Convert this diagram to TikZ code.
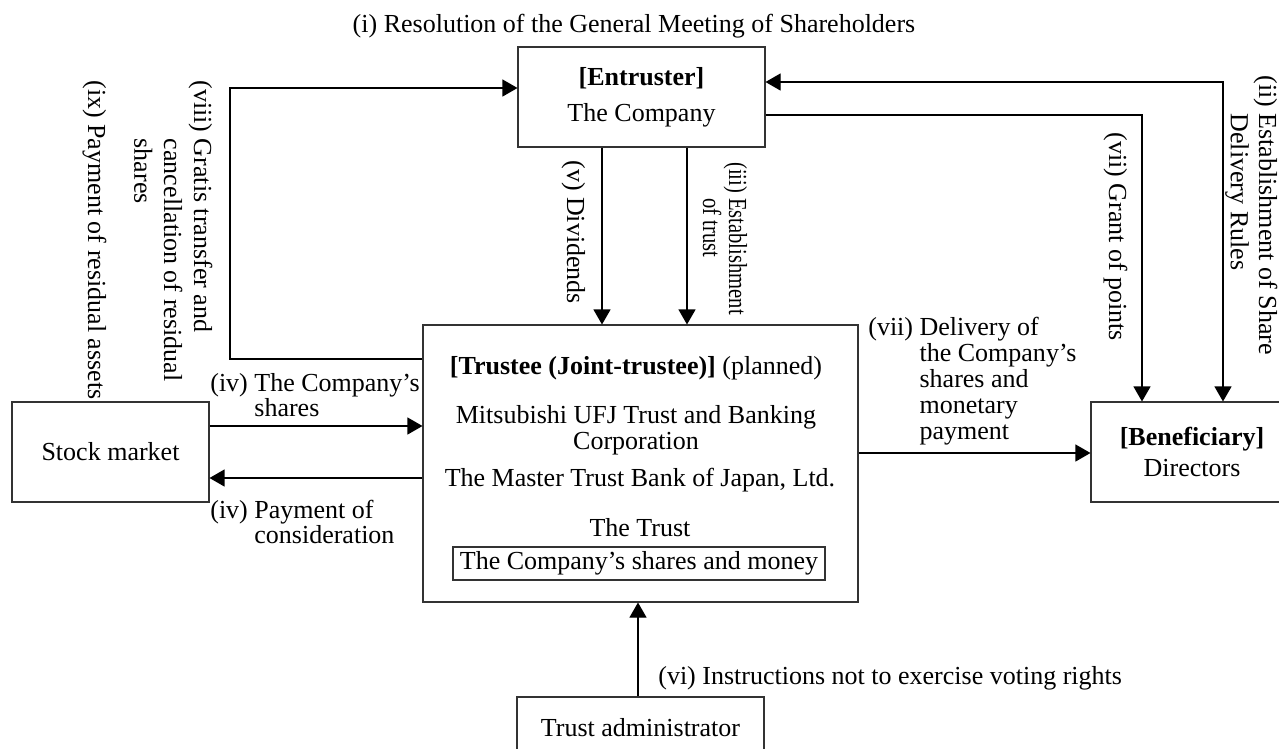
\documentclass[tikz,border=0pt]{standalone}
\usepackage{fontspec}
\setmainfont{Liberation Serif}
\usetikzlibrary{arrows.meta,calc,positioning}

\def\px{0.02cm}
% label with hanging indent: \hang{(x)}{first line\\ & next line}
\newcommand{\hang}[2]{\begin{tabular}[t]{@{}l@{\ }l@{}}#1 & #2\end{tabular}}

\tikzset{
  every node/.style={font=\fontsize{14.8}{14.8}\selectfont},
  box/.style={draw=black!80, line width=0.6pt, inner sep=0pt, align=center},
  link/.style={line width=0.6pt, -{Triangle[length=0.3cm,width=0.34cm]}},
  lbl/.style={inner sep=0pt, anchor=base west, align=left},
  vlbl/.style={lbl, rotate=-90},
}

\begin{document}
\begin{tikzpicture}[x=\px, y=-\px]
  \useasboundingbox (0,0) rectangle (1279,748);
  \clip (0,0) rectangle (1279,748);

  % Boxes
  \node[box, minimum width=247*\px, minimum height=100*\px] (entruster) at (641.5,97)
    {\textbf{[Entruster]}\\[5.7pt]The Company};
  \node[box, minimum width=435*\px, minimum height=277*\px] (trustee) at (640.5,463.5) {};
  \node[box, minimum width=197*\px, minimum height=100*\px] (stock) at (110.5,452) {Stock market};
  \node[box, minimum width=202*\px, minimum height=100*\px] (benef) at (1192,452)
    {\textbf{[Beneficiary]}\\[2.8pt]Directors};
  \node[box, minimum width=247*\px, minimum height=62*\px] (admin) at (640.5,728) {Trust administrator};

  % Inside the trustee box
  \node (trhead) at (636,368) {\textbf{[Trustee (Joint-trustee)]} (planned)};
  \node[align=center] (trmufg) at (636,430.5) {Mitsubishi UFJ Trust and Banking\\Corporation};
  \node (trmtbj) at (640,480) {The Master Trust Bank of Japan, Ltd.};
  \node (trtrust) at (640,528) {The Trust};
  \node[box, minimum width=372*\px, minimum height=33*\px] (assets) at (639,563.5)
    {The Company’s shares and money};

  % Connectors
  \coordinate (bendL) at (230,88);
  \draw[link] (trustee.west |- 0,359) -| (bendL) -- (entruster.west |- bendL);
  \draw[link, {Triangle[length=0.3cm,width=0.34cm]}-{Triangle[length=0.3cm,width=0.34cm]}]
    (entruster.east |- 0,82) -| (benef.north -| 1223,0);
  \draw[link] (entruster.east |- 0,115) -| (benef.north -| 1142,0);
  \draw[link] (entruster.south -| 602,0) -- (trustee.north -| 602,0);
  \draw[link] (entruster.south -| 687,0) -- (trustee.north -| 687,0);
  \draw[link] (stock.east |- 0,426) -- (trustee.west |- 0,426);
  \draw[link] (trustee.west |- 0,478) -- (stock.east |- 0,478);
  \draw[link] (trustee.east |- 0,453) -- (benef.west |- 0,453);
  \draw[link] (admin.north -| 638,0) -- (trustee.south -| 638,0);

  % Labels
  \node (title) at (634,26) {(i) Resolution of the General Meeting of Shareholders};
  \node[vlbl] (lbl9) at (88,80) {(ix) Payment of residual assets};
  \node[vlbl, font=\fontsize{14.8}{17}\selectfont] (lbl8) at (194,80)
    {\hang{(viii)}{Gratis transfer and\\ & cancellation of residual\\ & shares}};
  \node[vlbl] (lbl5) at (567,160) {(v) Dividends};
  \node[vlbl, font=\fontsize{14.8}{14.2}\selectfont] (lbl3) at (729,162)
    {\scalebox{0.79}[1]{\hang{(iii)}{Establishment\\ & of trust}}};
  \node[vlbl] (lbl7g) at (1109,132) {(vii) Grant of points};
  \node[vlbl, font=\fontsize{14.8}{16}\selectfont] (lbl2) at (1259,75)
    {\hang{(ii)}{Establishment of Share\\ & Delivery Rules}};
  \node[lbl, font=\fontsize{14.8}{14.2}\selectfont] (lbl4a) at (210,391)
    {\hang{(iv)}{The Company’s\\ & shares}};
  \node[lbl, font=\fontsize{14.8}{14.2}\selectfont] (lbl4b) at (210,518)
    {\hang{(iv)}{Payment of\\ & consideration}};
  \node[lbl] (lbl7d) at (868,335)
    {\hang{(vii)}{Delivery of\\ & the Company’s\\ & shares and\\ & monetary\\ & payment}};
  \node[lbl] (lbl6) at (658,684) {(vi) Instructions not to exercise voting rights};
\end{tikzpicture}
\end{document}
